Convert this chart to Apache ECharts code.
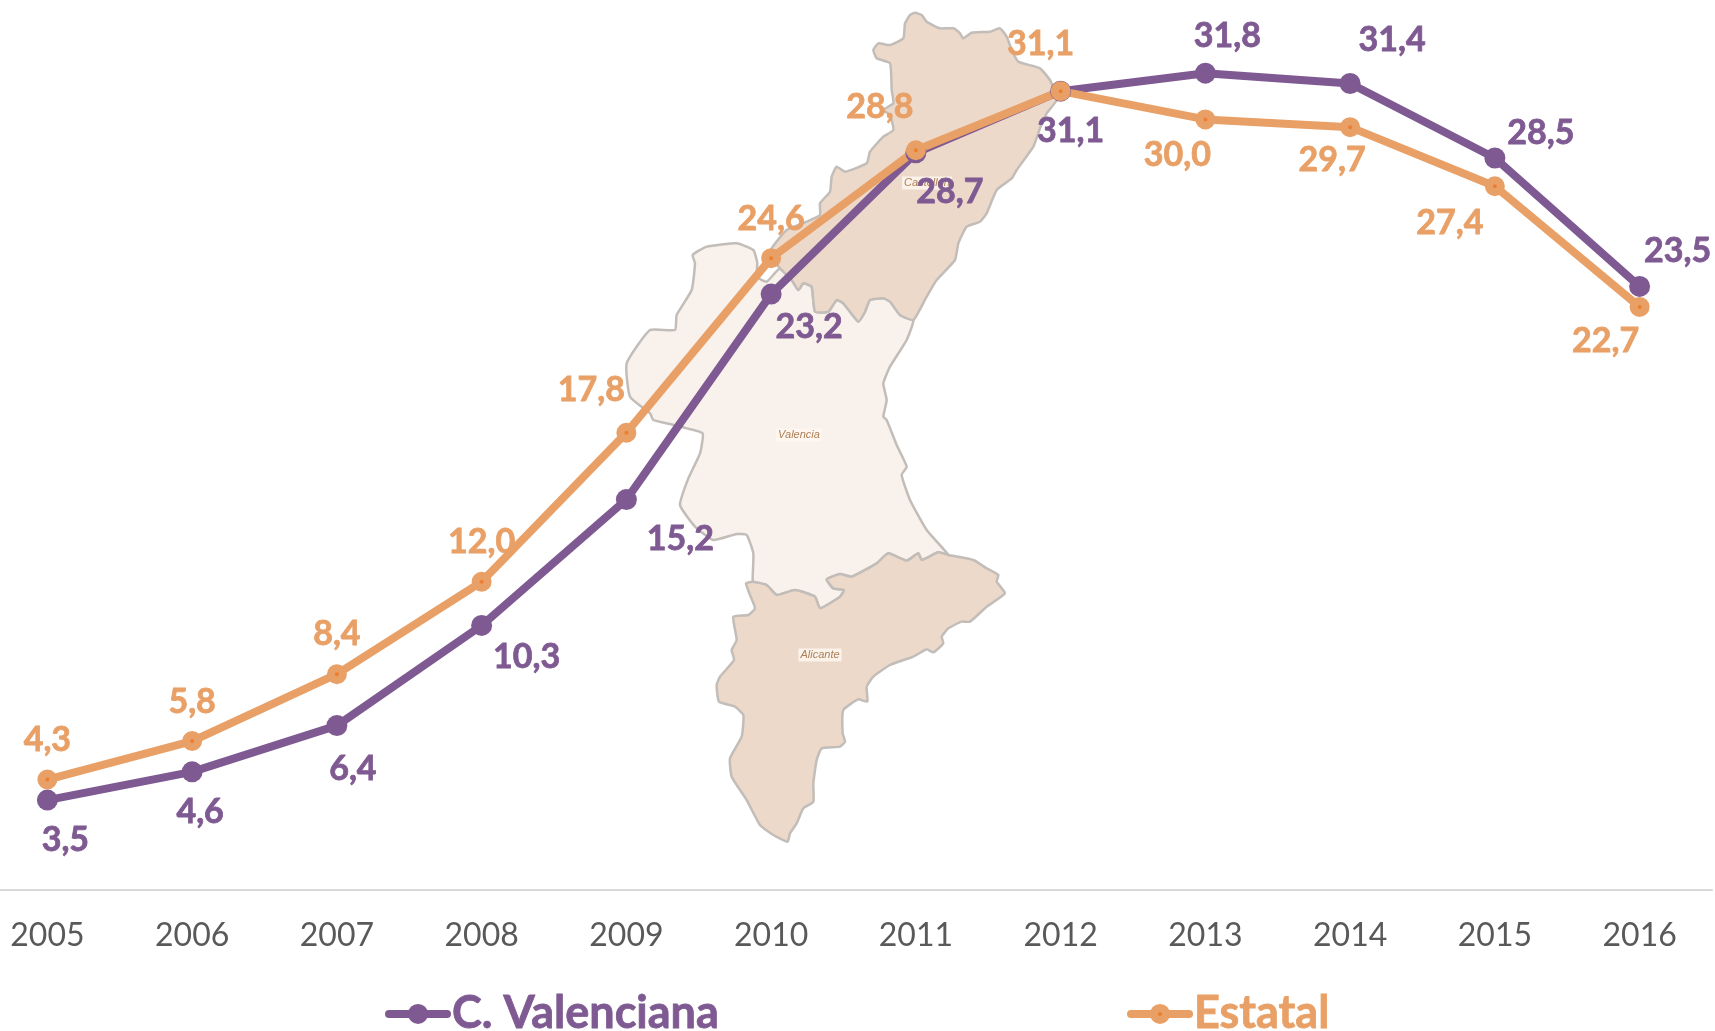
<!DOCTYPE html>
<html>
<head>
<meta charset="utf-8">
<style>html,body{margin:0;padding:0;background:#fff}#c{width:1715px;height:1031px}</style>
<script src="https://cdn.jsdelivr.net/npm/echarts@6/dist/echarts.min.js"></script>
</head>
<body>
<div id="c"></div>
<script>
const years = ['2005','2006','2007','2008','2009','2010','2011','2012','2013','2014','2015','2016'];
const valenciana = [3.5,4.6,6.4,10.3,15.2,23.2,28.7,31.1,31.8,31.4,28.5,23.5];
const estatal = [4.3,5.8,8.4,12.0,17.8,24.6,28.8,31.1,30.0,29.7,27.4,22.7];

const valencianaLabelOffsets = [[18,40],[8,40],[16,43],[45,32],[54,39],[38,33],[34,39],[10,40],[22,-37],[42,-43],[46,-25],[38,-35]];
const estatalLabelOffsets = [[0,-40],[0,-39],[0,-40],[0,-40],[-35,-43],[0,-39],[-36,-43],[-20,-47],[-28,36],[-18,33],[-45,37],[-34,34]];

/* Decorative background map, traced in crop coordinates */
const fromTop = p => [620 + p[0]/3, p[1]/3];
const fromBottom = p => [620 + p[0]/3, 420 + p[1]/3];

const castellonOutline = [[885,38],[905,45],[920,65],[960,85],[1000,85],[1020,100],[1030,115],[1055,98],[1110,95],[1140,85],[1160,110],[1175,150],[1195,185],[1260,205],[1290,240],[1300,265],[1310,300],[1280,340],[1260,385],[1240,440],[1190,510],[1175,535],[1130,570],[1100,640],[1080,665],[1040,680],[1015,730],[1005,780],[950,840],[920,890],[880,960],[840,945],[810,905],[790,895],[750,900],[735,935],[715,965],[670,910],[650,900],[625,935],[585,935],[575,860],[550,850],[535,870],[515,840],[480,805],[455,770],[455,745],[500,690],[560,665],[600,645],[600,610],[630,575],[635,530],[650,500],[675,515],[740,490],[750,455],[790,410],[820,390],[810,345],[790,330],[820,310],[815,270],[810,190],[770,175],[760,150],[775,130],[810,135],[850,115],[855,70],[870,45]];

const valenciaNorth = [[880,960],[860,1020],[810,1100],[790,1150],[800,1200],[790,1250]];
const valenciaSouth = [[800,0],[830,75],[860,140],[845,165],[870,240],[920,330],[985,405],[955,397],[905,420],[895,400],[860,422],[805,400],[770,430],[695,470],[660,462],[620,478],[640,505],[672,510],[660,530],[600,565],[585,530],[525,510],[470,525],[440,495],[405,490],[398,480],[400,400],[380,345],[350,342],[280,360],[225,320],[180,255],[205,175],[240,100],[248,40],[200,25],[150,12],[100,0]];
const valenciaWest = [[90,1240],[30,1190],[20,1090],[90,990],[165,990],[170,945],[215,870],[225,790],[218,765],[260,740],[350,730],[400,750],[412,790],[410,830],[440,845],[480,805],[515,840],[535,870],[550,850],[575,860],[585,935],[625,935],[650,900],[670,910],[715,965],[735,935],[750,900],[790,895],[810,905],[840,945]];

const alicanteOutline = [[985,405],[1060,420],[1100,445],[1135,465],[1130,485],[1155,520],[1100,560],[1050,605],[1025,605],[985,625],[965,650],[970,670],[940,697],[920,688],[880,710],[810,735],[760,770],[740,800],[742,845],[715,838],[670,870],[668,940],[675,965],[660,980],[605,985],[590,1020],[580,1090],[580,1145],[550,1165],[530,1210],[510,1240],[503,1265],[460,1245],[420,1215],[380,1140],[335,1070],[330,1015],[365,950],[370,885],[345,860],[297,845],[290,795],[300,770],[342,720],[335,690],[350,660],[340,590],[385,585],[405,565],[390,525],[378,490],[398,485],[440,495],[470,525],[525,510],[585,530],[600,565],[660,530],[672,510],[640,505],[620,478],[660,462],[695,470],[770,430],[805,400],[860,422],[895,400],[905,420],[955,397]];

const mapStroke = '#c2bdb8';
function region(points, fill) {
  return { type:'polygon', z:1, silent:true,
    shape:{ points, smooth:0.15 },
    style:{ fill, stroke:mapStroke, lineWidth:2.5, lineJoin:'round' } };
}
function regionName(text, x, y) {
  return { type:'text', z:1, silent:true, x, y,
    style:{ text, fill:'#ad8058', font:'italic 11px "Liberation Sans"',
      textAlign:'center', textVerticalAlign:'middle',
      backgroundColor:'rgba(255,248,240,0.8)', padding:[1,2] } };
}

const purple = '#7F5A92';
const orange = '#E9A066';
const labelFmt = p => p.value.toFixed(1).replace('.', ',');
const withOffsets = (vals, offs) => vals.map((v,i) => ({ value:v, label:{ offset:offs[i] } }));

const lineSeries = (name, vals, offs, color, itemStyle) => ({
  name, type:'line', z:3,
  data: withOffsets(vals, offs),
  smooth:false, symbol:'circle',
  symbolSize: itemStyle.symbolSize,
  lineStyle:{ color, width:8, cap:'round' },
  itemStyle: itemStyle.style,
  label:{ show:true, position:'inside', formatter:labelFmt, color,
    fontFamily:'Lato', fontWeight:'bold', fontSize:34,
    textBorderColor:color, textBorderWidth:0.8 },
  emphasis:{ disabled:true }
});

const legendText = color => ({ color, fontFamily:'Lato', fontWeight:'bold', fontSize:45,
  textBorderColor:color, textBorderWidth:0.8 });

const chart = echarts.init(document.getElementById('c'), null, { renderer:'canvas' });
chart.setOption({
  animation:false,
  backgroundColor:'#fff',
  grid:{ left:-25, width:1737, top:-9, height:899, outerBoundsMode:'none', containLabel:false },
  xAxis:{ type:'category', data:years, boundaryGap:true,
    axisLine:{ show:true, lineStyle:{ color:'#d9d9d9', width:2 } },
    axisTick:{ show:false },
    axisLabel:{ color:'#595959', fontFamily:'Lato', fontSize:32, margin:30, interval:0, hideOverlap:false } },
  yAxis:{ type:'value', min:0, max:35, show:false, splitLine:{ show:false } },
  legend:[
    { data:['C. Valenciana'], left:380, top:986, itemWidth:58, itemHeight:25, itemGap:0,
      lineStyle:{ width:8, cap:'round' }, itemStyle:{ color:purple },
      textStyle:legendText(purple) },
    { data:['Estatal'], left:1122, top:986, itemWidth:58, itemHeight:15, itemGap:0,
      lineStyle:{ width:8, cap:'round' }, itemStyle:{ color:'#ED7D31', borderColor:orange, borderWidth:8 },
      textStyle:legendText(orange) }
  ],
  graphic:{ elements:[
    region(valenciaNorth.map(fromTop).concat(valenciaSouth.map(fromBottom), valenciaWest.map(fromTop)), '#F8F1EC'),
    region(castellonOutline.map(fromTop), '#ECD9CA'),
    region(alicanteOutline.map(fromBottom), '#ECD9CA'),
    regionName('Castellón', 927, 183),
    regionName('Valencia', 799, 435),
    regionName('Alicante', 820, 655)
  ]},
  series:[
    lineSeries('C. Valenciana', valenciana, valencianaLabelOffsets, purple,
      { symbolSize:21, style:{ color:purple } }),
    lineSeries('Estatal', estatal, estatalLabelOffsets, orange,
      { symbolSize:12, style:{ color:'#ED7D31', borderColor:orange, borderWidth:8 } })
  ]
});
</script>
</body>
</html>
